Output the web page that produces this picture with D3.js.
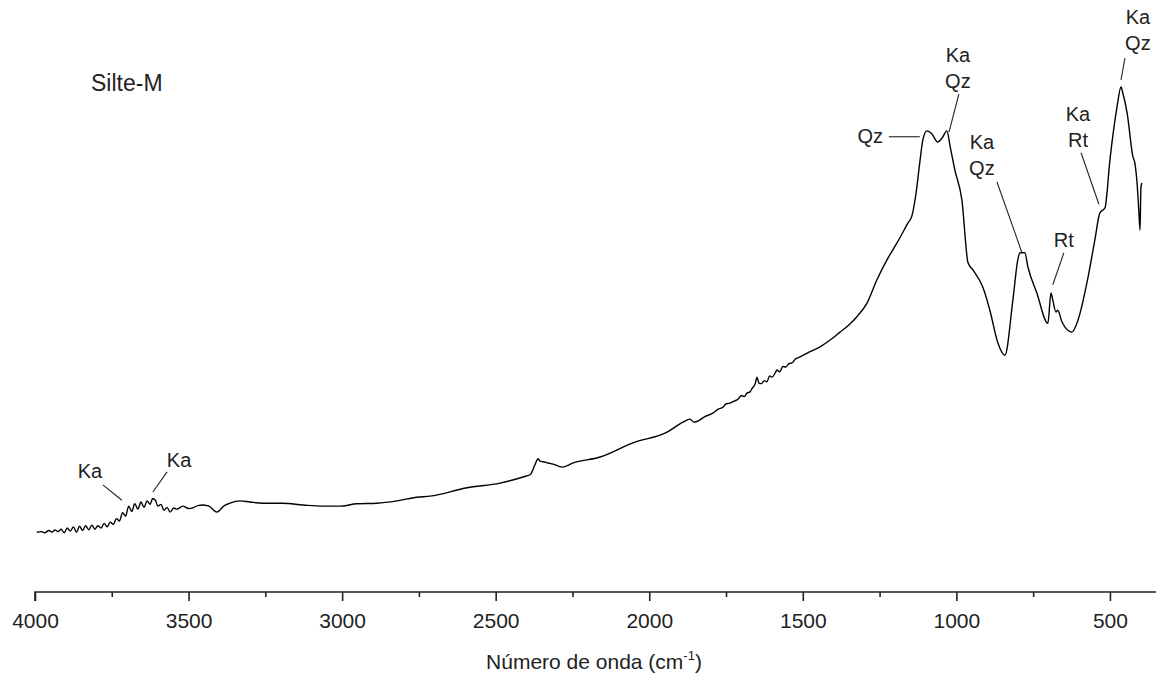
<!DOCTYPE html>
<html>
<head>
<meta charset="utf-8">
<script src="https://cdn.jsdelivr.net/npm/d3@7"></script>
<style>
  html, body { margin: 0; padding: 0; background: #fff; }
  svg { display: block; }
  text { font-family: "Liberation Sans", Arial, sans-serif; fill: #222; }
</style>
</head>
<body>
<svg id="chart" width="1156" height="677"></svg>
<script>
// FTIR spectrum, Silte-M : wavenumber (cm-1) and absorbance (a.u.)
const wavenumber = [
  3994, 3980, 3968, 3955, 3945, 3935, 3925, 3915, 3905, 3895, 3885, 3875, 3865, 3855, 3845,
  3835, 3825, 3815, 3805, 3795, 3785, 3775, 3765, 3755, 3745, 3735, 3725, 3715, 3705, 3695,
  3685, 3675, 3665, 3655, 3645, 3635, 3625, 3617, 3608, 3600, 3590, 3580, 3570, 3560, 3548,
  3538, 3518, 3500, 3486, 3470, 3453, 3440, 3430, 3418, 3407, 3395, 3388, 3365, 3333, 3300,
  3258, 3193, 3127, 3062, 3007, 2952, 2887, 2821, 2756, 2714, 2593, 2486, 2400, 2388, 2372,
  2362, 2355, 2346, 2330, 2313, 2284, 2248, 2160, 2053, 1942, 1890, 1867, 1855, 1845, 1820,
  1793, 1775, 1760, 1750, 1737, 1725, 1710, 1700, 1690, 1682, 1672, 1665, 1655, 1649, 1643,
  1635, 1625, 1617, 1608, 1600, 1590, 1584, 1575, 1565, 1555, 1545, 1535, 1525, 1509, 1480,
  1444, 1410, 1379, 1350, 1324, 1291, 1259, 1226, 1193, 1158, 1145, 1132, 1119, 1109, 1096,
  1080, 1061, 1045, 1031, 1020, 1005, 982, 962, 946, 914, 891, 865, 842, 816, 800,
  793, 777, 767, 738, 702, 692, 686, 676, 670, 656, 624, 604, 575, 549, 533,
  516, 500, 477, 464, 458, 444, 425, 419, 412, 406, 402, 399, 396
];
const absorbance = [
  0.101, 0.102, 0.100, 0.104, 0.101, 0.105, 0.102, 0.106, 0.100, 0.108, 0.103, 0.110, 0.101, 0.111, 0.104,
  0.112, 0.105, 0.113, 0.106, 0.112, 0.108, 0.116, 0.110, 0.118, 0.114, 0.124, 0.120, 0.134, 0.128, 0.145,
  0.136, 0.149, 0.140, 0.152, 0.143, 0.154, 0.148, 0.158, 0.155, 0.145, 0.148, 0.138, 0.143, 0.135, 0.142,
  0.140, 0.145, 0.141, 0.142, 0.146, 0.147, 0.146, 0.144, 0.138, 0.135, 0.140, 0.144, 0.150, 0.154, 0.152,
  0.150, 0.150, 0.147, 0.145, 0.145, 0.149, 0.150, 0.154, 0.160, 0.162, 0.176, 0.184, 0.196, 0.198, 0.215,
  0.225, 0.221, 0.220, 0.218, 0.216, 0.211, 0.218, 0.228, 0.252, 0.270, 0.287, 0.292, 0.287, 0.288, 0.296,
  0.302, 0.309, 0.312, 0.318, 0.319, 0.322, 0.326, 0.332, 0.330, 0.336, 0.338, 0.344, 0.352, 0.363, 0.353,
  0.352, 0.357, 0.355, 0.365, 0.363, 0.370, 0.375, 0.372, 0.381, 0.380, 0.386, 0.387, 0.393, 0.397, 0.405,
  0.414, 0.426, 0.439, 0.451, 0.465, 0.488, 0.527, 0.561, 0.590, 0.623, 0.635, 0.671, 0.726, 0.764, 0.779,
  0.774, 0.760, 0.768, 0.779, 0.752, 0.713, 0.662, 0.556, 0.544, 0.515, 0.476, 0.421, 0.400, 0.493, 0.561,
  0.573, 0.573, 0.549, 0.505, 0.454, 0.505, 0.493, 0.473, 0.476, 0.456, 0.439, 0.459, 0.522, 0.595, 0.640,
  0.649, 0.730, 0.819, 0.853, 0.843, 0.809, 0.735, 0.725, 0.693, 0.645, 0.611, 0.684, 0.691
];
const majorTicks = [4000, 3500, 3000, 2500, 2000, 1500, 1000, 500];
const minorTicks = [3750, 3250, 2750, 2250, 1750, 1250, 750];
const sampleName = "Silte-M";
// band assignments: text lines, label anchor (lx, ly), leader line from (sx, sy) to (ex, ey)
const bandLabels = [
  { lines: ["Ka"], lx: 3821, ly: 0.193, sx: 3779, sy: 0.181, ex: 3717, ey: 0.155, anchor: "middle" },
  { lines: ["Ka"], lx: 3531, ly: 0.211, sx: 3570, sy: 0.203, ex: 3616, ey: 0.169, anchor: "middle" },
  { lines: ["Qz"], lx: 1239, ly: 0.758, sx: 1220, sy: 0.769, ex: 1119, ey: 0.769, anchor: "end" },
  { lines: ["Ka", "Qz"], lx: 995, ly: 0.851, sx: 992, sy: 0.841, ex: 1024, ey: 0.777, anchor: "middle" },
  { lines: ["Ka", "Qz"], lx: 917, ly: 0.704, sx: 868, sy: 0.693, ex: 787, ey: 0.574, anchor: "middle" },
  { lines: ["Rt"], lx: 650, ly: 0.583, sx: 650, sy: 0.573, ex: 686, ey: 0.519, anchor: "middle" },
  { lines: ["Ka", "Rt"], lx: 604, ly: 0.752, sx: 594, sy: 0.742, ex: 536, ey: 0.655, anchor: "middle" },
  { lines: ["Ka", "Qz"], lx: 409, ly: 0.9155, sx: 451, sy: 0.902, ex: 464, ey: 0.865, anchor: "middle" }
];

const svg = d3.select("#chart");
const x = d3.scaleLinear().domain([4000, 350]).range([35, 1156]);
const y = d3.scaleLinear().domain([0, 1]).range([592, 0]);

// axis
const axisMajor = d3.axisBottom(x).tickValues(majorTicks).tickSize(9).tickPadding(12)
  .tickFormat(d3.format("d"));
const gx = svg.append("g").attr("transform", `translate(0,${y(0)})`).call(axisMajor);
gx.select(".domain").attr("stroke", "#222").attr("stroke-width", 1.6).attr("d", `M${x(4000)},9V0H${x(350)}`);
gx.selectAll(".tick line").attr("stroke", "#222").attr("stroke-width", 1.6);
gx.selectAll(".tick text").attr("font-size", 21).attr("fill", "#222")
  .attr("font-family", "'Liberation Sans', Arial, sans-serif");
const axisMinor = d3.axisBottom(x).tickValues(minorTicks).tickSize(5).tickFormat("");
const gm = svg.append("g").attr("transform", `translate(0,${y(0)})`).call(axisMinor);
gm.select(".domain").remove();
gm.selectAll(".tick line").attr("stroke", "#222").attr("stroke-width", 1.6);

// axis title
const title = svg.append("text").attr("x", 594).attr("y", 669).attr("text-anchor", "middle")
  .attr("font-size", 21);
title.append("tspan").text("Número de onda (cm");
title.append("tspan").attr("font-size", 13).attr("dy", -9).text("-1");
title.append("tspan").attr("dy", 9).text(")");

// spectrum
const pts = wavenumber.map((w, i) => [w, absorbance[i]]);
svg.append("path").datum(pts)
  .attr("fill", "none").attr("stroke", "#000").attr("stroke-width", 1.4)
  .attr("stroke-linejoin", "round")
  .attr("d", d3.line().curve(d3.curveMonotoneX).x(d => x(d[0])).y(d => y(d[1])));

// sample name
svg.append("text").attr("x", 91).attr("y", 91).attr("font-size", 23).text(sampleName);

// band labels
bandLabels.forEach(b => {
  const lh = 26;
  const n = b.lines.length;
  b.lines.forEach((t, i) => {
    svg.append("text").attr("x", x(b.lx)).attr("y", y(b.ly) - (n - 1 - i) * lh)
      .attr("text-anchor", b.anchor).attr("font-size", 20).text(t);
  });
  svg.append("line")
    .attr("x1", x(b.sx)).attr("y1", y(b.sy))
    .attr("x2", x(b.ex)).attr("y2", y(b.ey))
    .attr("stroke", "#222").attr("stroke-width", 1.1);
});
</script>
</body>
</html>
